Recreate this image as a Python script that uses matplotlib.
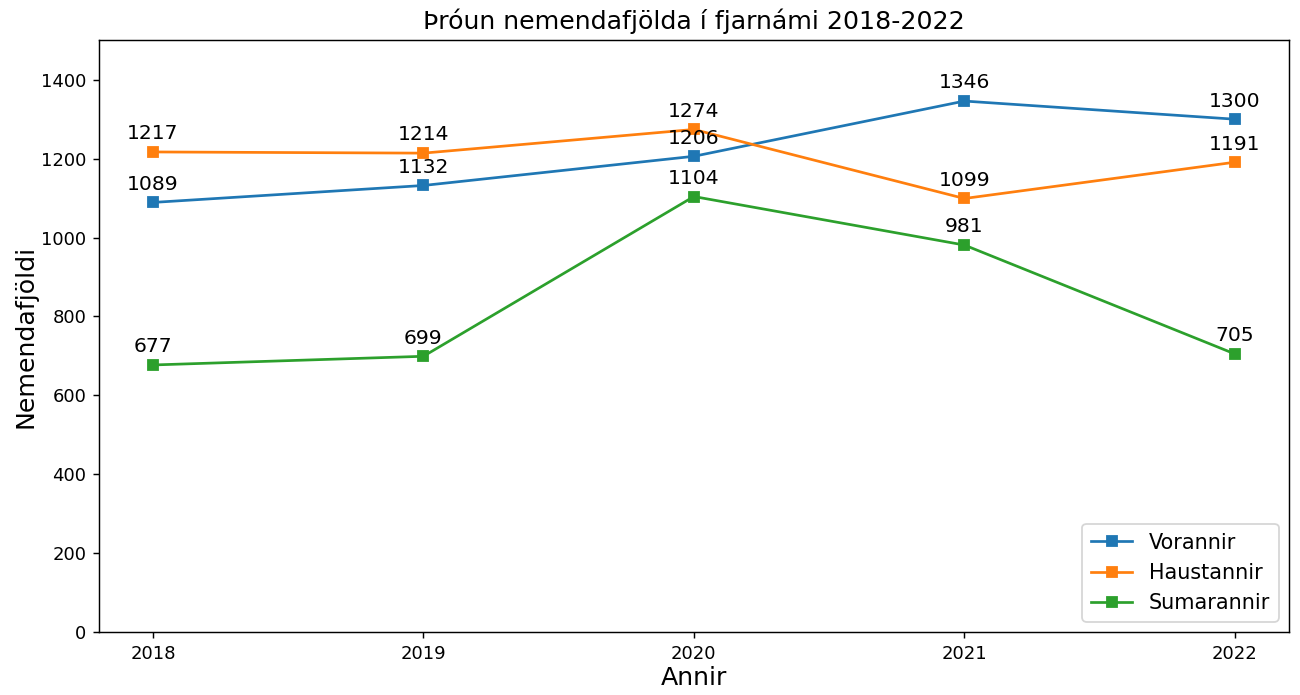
import matplotlib.pyplot as plt

years = ["2018", "2019", "2020", "2021", "2022"]
vorannir = [1089, 1132, 1206, 1346, 1300]
haustannir = [1217, 1214, 1274, 1099, 1191]
sumarannir = [677, 699, 1104, 981, 705]

series = [
    ("Vorannir", vorannir, "#1f77b4"),
    ("Haustannir", haustannir, "#ff7f0e"),
    ("Sumarannir", sumarannir, "#2ca02c"),
]

fig, ax = plt.subplots(figsize=(10, 695 / 130), dpi=130)
fig.subplots_adjust(left=0.076, right=0.9915, top=0.942, bottom=0.0906)

for name, vals, col in series:
    ax.plot(years, vals, marker="s", color=col, label=name)
    for x, v in zip(years, vals):
        ax.annotate(str(v), (x, v), textcoords="offset points", xytext=(0, 7),
                    ha="center", fontsize=11.2)

ax.set_ylim(0, 1500)
ax.set_title("Þróun nemendafjölda í fjarnámi 2018-2022", fontsize=14)
ax.set_xlabel("Annir", fontsize=14, labelpad=2)
ax.set_ylabel("Nemendafjöldi", fontsize=14, labelpad=2)
ax.legend(loc="lower right", fontsize=11.5)

fig.savefig("out.png")
